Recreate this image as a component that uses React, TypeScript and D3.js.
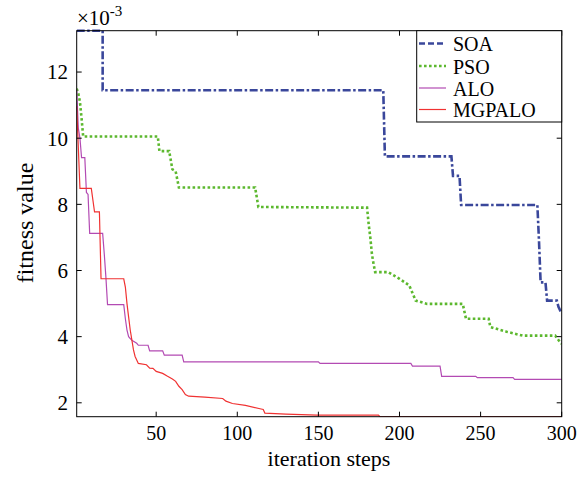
import React from 'react';
import * as d3 from 'd3';

// [iteration, fitness value x1e-3]
const soa = [[1, 13.25], [17, 13.25], [17, 11.45], [190, 11.45], [191, 9.45], [232, 9.45], [233, 8.86], [237, 8.86], [238, 7.98], [285, 7.98], [286, 6.9], [287, 5.64], [290, 5.64], [291, 5.09], [297, 5.09], [298, 4.9], [300, 4.7]];
const pso = [[1, 11.5], [2, 11.35], [3, 11.1], [4, 10.6], [5, 10.05], [51, 10.05], [52, 9.61], [58, 9.61], [60, 9.06], [62, 9.0], [64, 8.51], [111, 8.51], [113, 7.92], [180, 7.9], [181, 7.4], [182, 7.0], [183, 6.5], [184, 6.2], [185, 5.95], [193, 5.95], [200, 5.75], [206, 5.55], [210, 5.09], [217, 4.99], [239, 4.99], [241, 4.54], [255, 4.54], [256, 4.29], [266, 4.15], [276, 4.03], [296, 4.03], [298, 3.9], [300, 3.78]];
const alo = [[1, 11.47], [2, 10.3], [3, 10.0], [4, 9.41], [6, 9.41], [7, 8.36], [8, 8.3], [9, 7.12], [17, 7.12], [18, 6.5], [19, 5.8], [20, 4.97], [30, 4.97], [31, 4.54], [32, 4.2], [33, 4.0], [35, 3.89], [38, 3.8], [39, 3.74], [45, 3.74], [46, 3.57], [54, 3.57], [55, 3.44], [66, 3.44], [67, 3.24], [150, 3.24], [151, 3.19], [207, 3.19], [208, 3.11], [225, 3.11], [226, 2.8], [247, 2.8], [248, 2.76], [270, 2.76], [271, 2.71], [300, 2.71]];
const mgpalo = [[1, 10.97], [3, 8.48], [10, 8.48], [12, 7.77], [15, 7.77], [16, 5.75], [30, 5.75], [31, 5.5], [32, 5.0], [33, 4.6], [34, 4.2], [35, 3.9], [36, 3.6], [37, 3.4], [39, 3.19], [44, 3.15], [46, 3.05], [48, 3.04], [50, 2.95], [54, 2.89], [57, 2.8], [60, 2.72], [62, 2.65], [64, 2.5], [66, 2.4], [68, 2.25], [70, 2.2], [80, 2.17], [91, 2.13], [93, 2.05], [97, 1.98], [105, 1.92], [114, 1.82], [116, 1.8], [117, 1.69], [130, 1.66], [149, 1.63], [187, 1.63], [188, 1.58], [300, 1.58]];

const seriesNames = ['SOA', 'PSO', 'ALO', 'MGPALO'];
const xTicks = [50, 100, 150, 200, 250, 300];
const yTicks = [2, 4, 6, 8, 10, 12];

const styles = [
  { color: '#3a479b', width: 2.6, dash: '8,2.5,2.5,2.5' },
  { color: '#5cb82e', width: 2.6, dash: '2.6,2.4' },
  { color: '#b34ab3', width: 1.2, dash: null },
  { color: '#f03232', width: 1.2, dash: null },
];

const font = '"Liberation Serif", "Times New Roman", serif';

export default function App() {
  const W = 587, H = 479;
  const m = { left: 76.7, right: 561.7, top: 30.7, bottom: 416.7 };

  const x = d3.scaleLinear().domain([1, 300]).range([m.left, m.right]);
  const y = d3.scaleLinear().domain([1.58, 13.25]).range([m.bottom, m.top]);

  const line = d3.line<number[]>().x(d => x(d[0])).y(d => y(d[1]));
  const data = [soa, pso, alo, mgpalo];
  const tick = 5;

  const lg = { x0: 416.7, y0: 30.7, x1: m.right, y1: 122 };
  const lgBase = [51, 73.5, 95.5, 117];

  return (
    <svg width={W} height={H} style={{ position: 'absolute', left: 0, top: 0, background: '#fff' }} fontFamily={font}>
      <defs>
        <clipPath id="plot">
          <rect x={m.left} y={m.top - 2} width={m.right - m.left} height={m.bottom - m.top + 2} />
        </clipPath>
      </defs>
      <rect width={W} height={H} fill="#fff" />

      <g clipPath="url(#plot)">
        {data.map((d, i) => (
          <path key={i} d={line(d) || ''} fill="none" stroke={styles[i].color}
            strokeWidth={styles[i].width} strokeDasharray={styles[i].dash || undefined} />
        ))}
      </g>

      {/* axes box */}
      <rect x={m.left} y={m.top} width={m.right - m.left} height={m.bottom - m.top} fill="none" stroke="#000" strokeWidth={1} />

      {xTicks.map(t => (
        <g key={'x' + t}>
          <line x1={x(t)} x2={x(t)} y1={m.bottom} y2={m.bottom - tick} stroke="#000" />
          <line x1={x(t)} x2={x(t)} y1={m.top} y2={m.top + tick} stroke="#000" />
          <text x={x(t)} y={440} fontSize={20} textAnchor="middle">{t}</text>
        </g>
      ))}
      {yTicks.map(t => (
        <g key={'y' + t}>
          <line x1={m.left} x2={m.left + tick} y1={y(t)} y2={y(t)} stroke="#000" />
          <line x1={m.right} x2={m.right - tick} y1={y(t)} y2={y(t)} stroke="#000" />
          <text x={68} y={y(t)} dy="0.35em" fontSize={21} textAnchor="end">{t}</text>
        </g>
      ))}

      <text x={77} y={25} fontSize={21}>×10<tspan fontSize={15} dy={-9}>-3</tspan></text>

      <text x={329} y={466} fontSize={22} textAnchor="middle">iteration steps</text>
      <text transform={`translate(33,223) rotate(-90)`} fontSize={24} textAnchor="middle">fitness value</text>

      {/* legend */}
      <rect x={lg.x0} y={lg.y0} width={lg.x1 - lg.x0} height={lg.y1 - lg.y0} fill="#fff" stroke="#000" strokeWidth={1} />
      {seriesNames.map((n, i) => (
        <g key={n}>
          <line x1={419} x2={446} y1={lgBase[i] - 7.5} y2={lgBase[i] - 7.5} stroke={styles[i].color}
            strokeWidth={styles[i].width} strokeDasharray={i === 0 ? '6,3' : styles[i].dash || undefined} />
          <text x={453} y={lgBase[i]} fontSize={20}>{n}</text>
        </g>
      ))}
    </svg>
  );
}
